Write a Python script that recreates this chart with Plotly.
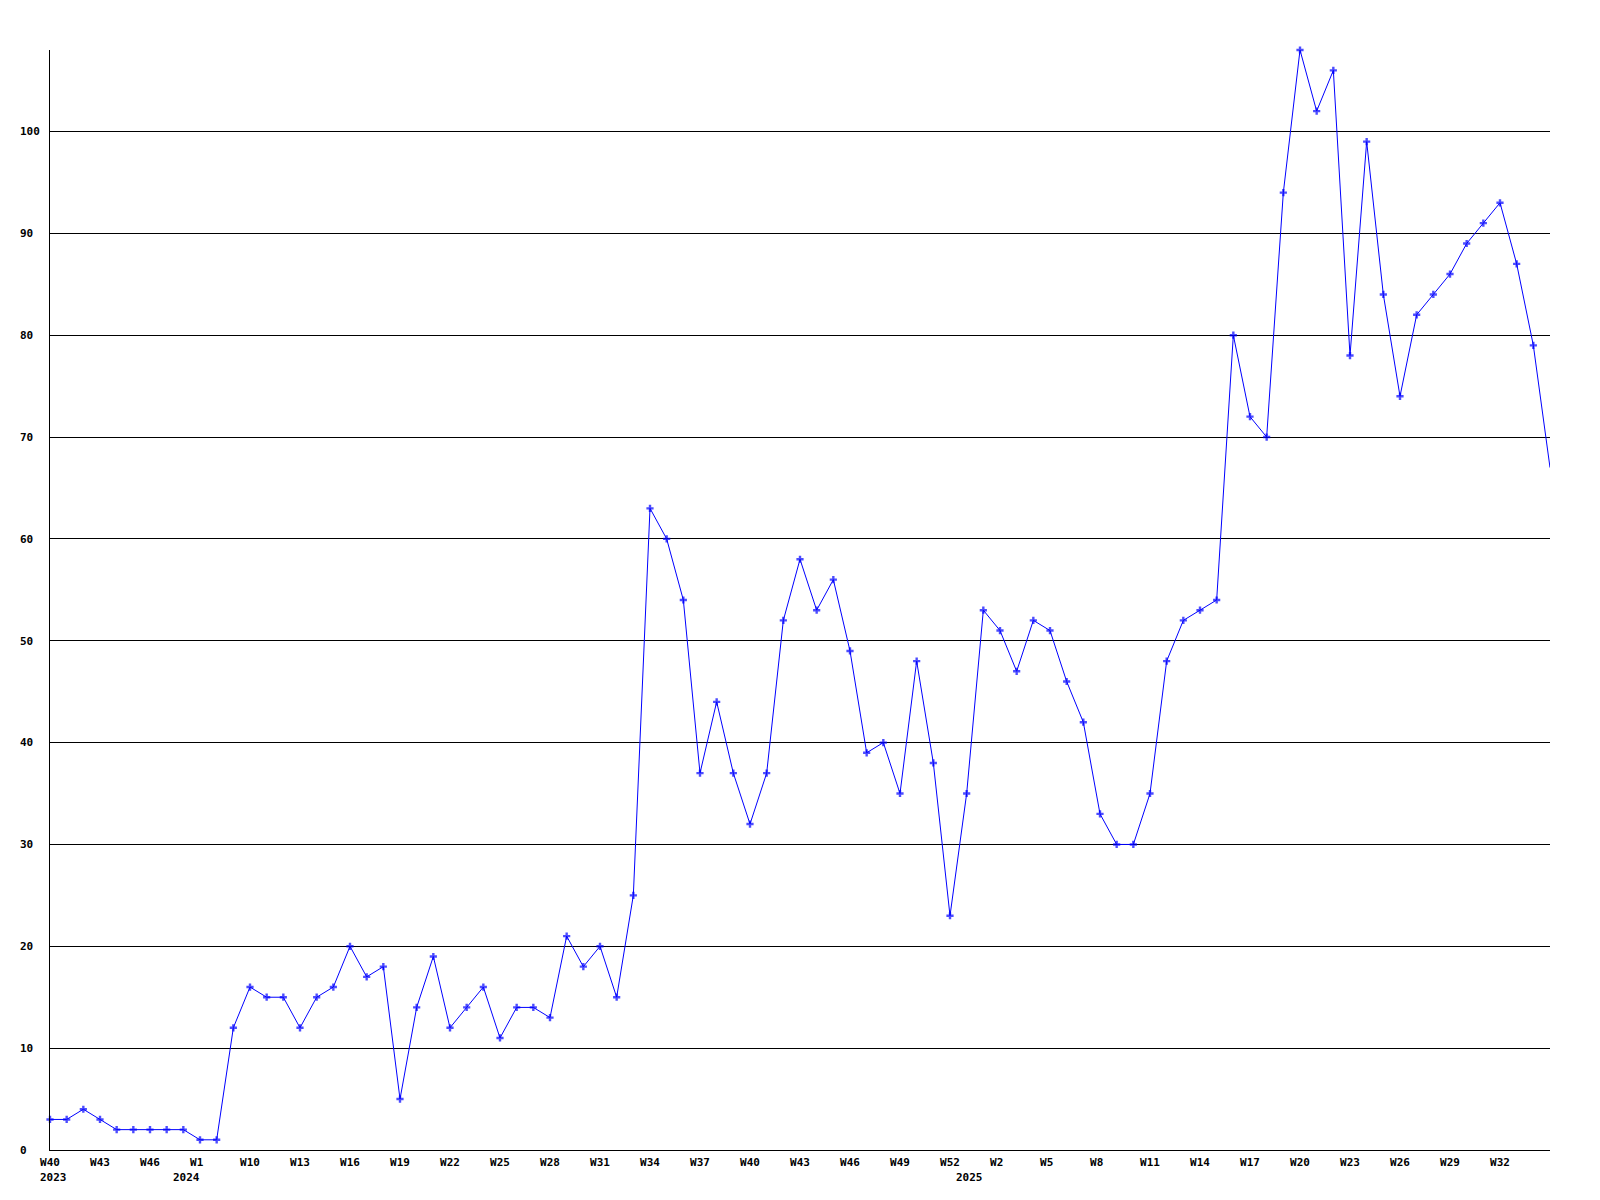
import plotly.graph_objects as go

values = [3, 3, 4, 3, 2, 2, 2, 2, 2, 1, 1, 12, 16, 15, 15, 12, 15, 16, 20, 17,
          18, 5, 14, 19, 12, 14, 16, 11, 14, 14, 13, 21, 18, 20, 15, 25, 63, 60, 54, 37,
          44, 37, 32, 37, 52, 58, 53, 56, 49, 39, 40, 35, 48, 38, 23, 35, 53, 51, 47, 52,
          51, 46, 42, 33, 30, 30, 35, 48, 52, 53, 54, 80, 72, 70, 94, 108, 102, 106, 78, 99,
          84, 74, 82, 84, 86, 89, 91, 93, 87, 79, 67]

week_tick_pos = [0, 3, 6, 9, 12, 15, 18, 21, 24, 27, 30, 33, 36, 39, 42, 45, 48, 51,
                 54, 57, 60, 63, 66, 69, 72, 75, 78, 81, 84, 87]
week_tick_labels = ["W40", "W43", "W46", "W1", "W10", "W13", "W16", "W19", "W22", "W25",
                    "W28", "W31", "W34", "W37", "W40", "W43", "W46", "W49", "W52", "W2",
                    "W5", "W8", "W11", "W14", "W17", "W20", "W23", "W26", "W29", "W32"]

year_pos = [0, 8, 55]
year_labels = ["2023", "2024", "2025"]

y_ticks = [0, 10, 20, 30, 40, 50, 60, 70, 80, 90, 100]

NB = "\u00a0"
FONT = "DejaVu Sans Mono"

x = list(range(len(values)))
sizes = [6] * (len(values) - 1) + [0]

fig = go.Figure()
fig.add_trace(go.Scatter(
    x=x, y=values, mode="lines+markers",
    line=dict(color="#0000ff", width=1),
    marker=dict(symbol="cross", size=sizes, color="#0000ff", line=dict(width=0)),
    cliponaxis=False, hoverinfo="skip",
))

xt = [lbl + NB * (3 - len(lbl)) for lbl in week_tick_labels]
yt = [str(v) + NB * (3 - len(str(v))) for v in y_ticks]

annotations = []
for p, t in zip(year_pos, year_labels):
    annotations.append(dict(
        x=p, y=0, xref="x", yref="paper", text=t, showarrow=False,
        xanchor="center", yanchor="middle", xshift=3, yshift=-27,
        font=dict(family=FONT, size=11, color="black", weight="bold"),
    ))

# page body has an 8px margin; figure is offset to keep plot area at 50..1550 x 50..1150
fig.update_layout(
    width=1592, height=1192,
    margin=dict(l=42, r=50, t=42, b=50, autoexpand=False),
    paper_bgcolor="white", plot_bgcolor="white",
    showlegend=False,
    annotations=annotations,
    xaxis=dict(
        range=[0, len(values) - 1], showgrid=False, zeroline=False,
        showline=True, linecolor="black", linewidth=1,
        tickmode="array", tickvals=week_tick_pos, ticktext=xt,
        ticks="", ticklabelstandoff=2,
        tickfont=dict(family=FONT, size=11, color="black", weight="bold"),
    ),
    yaxis=dict(
        range=[0, 108], showgrid=True, gridcolor="black", gridwidth=1,
        zeroline=False, showline=True, linecolor="black", linewidth=1,
        tickmode="array", tickvals=y_ticks, ticktext=yt,
        ticks="", ticklabelstandoff=7,
        tickfont=dict(family=FONT, size=11, color="black", weight="bold"),
    ),
)

fig.write_html("out.html")
